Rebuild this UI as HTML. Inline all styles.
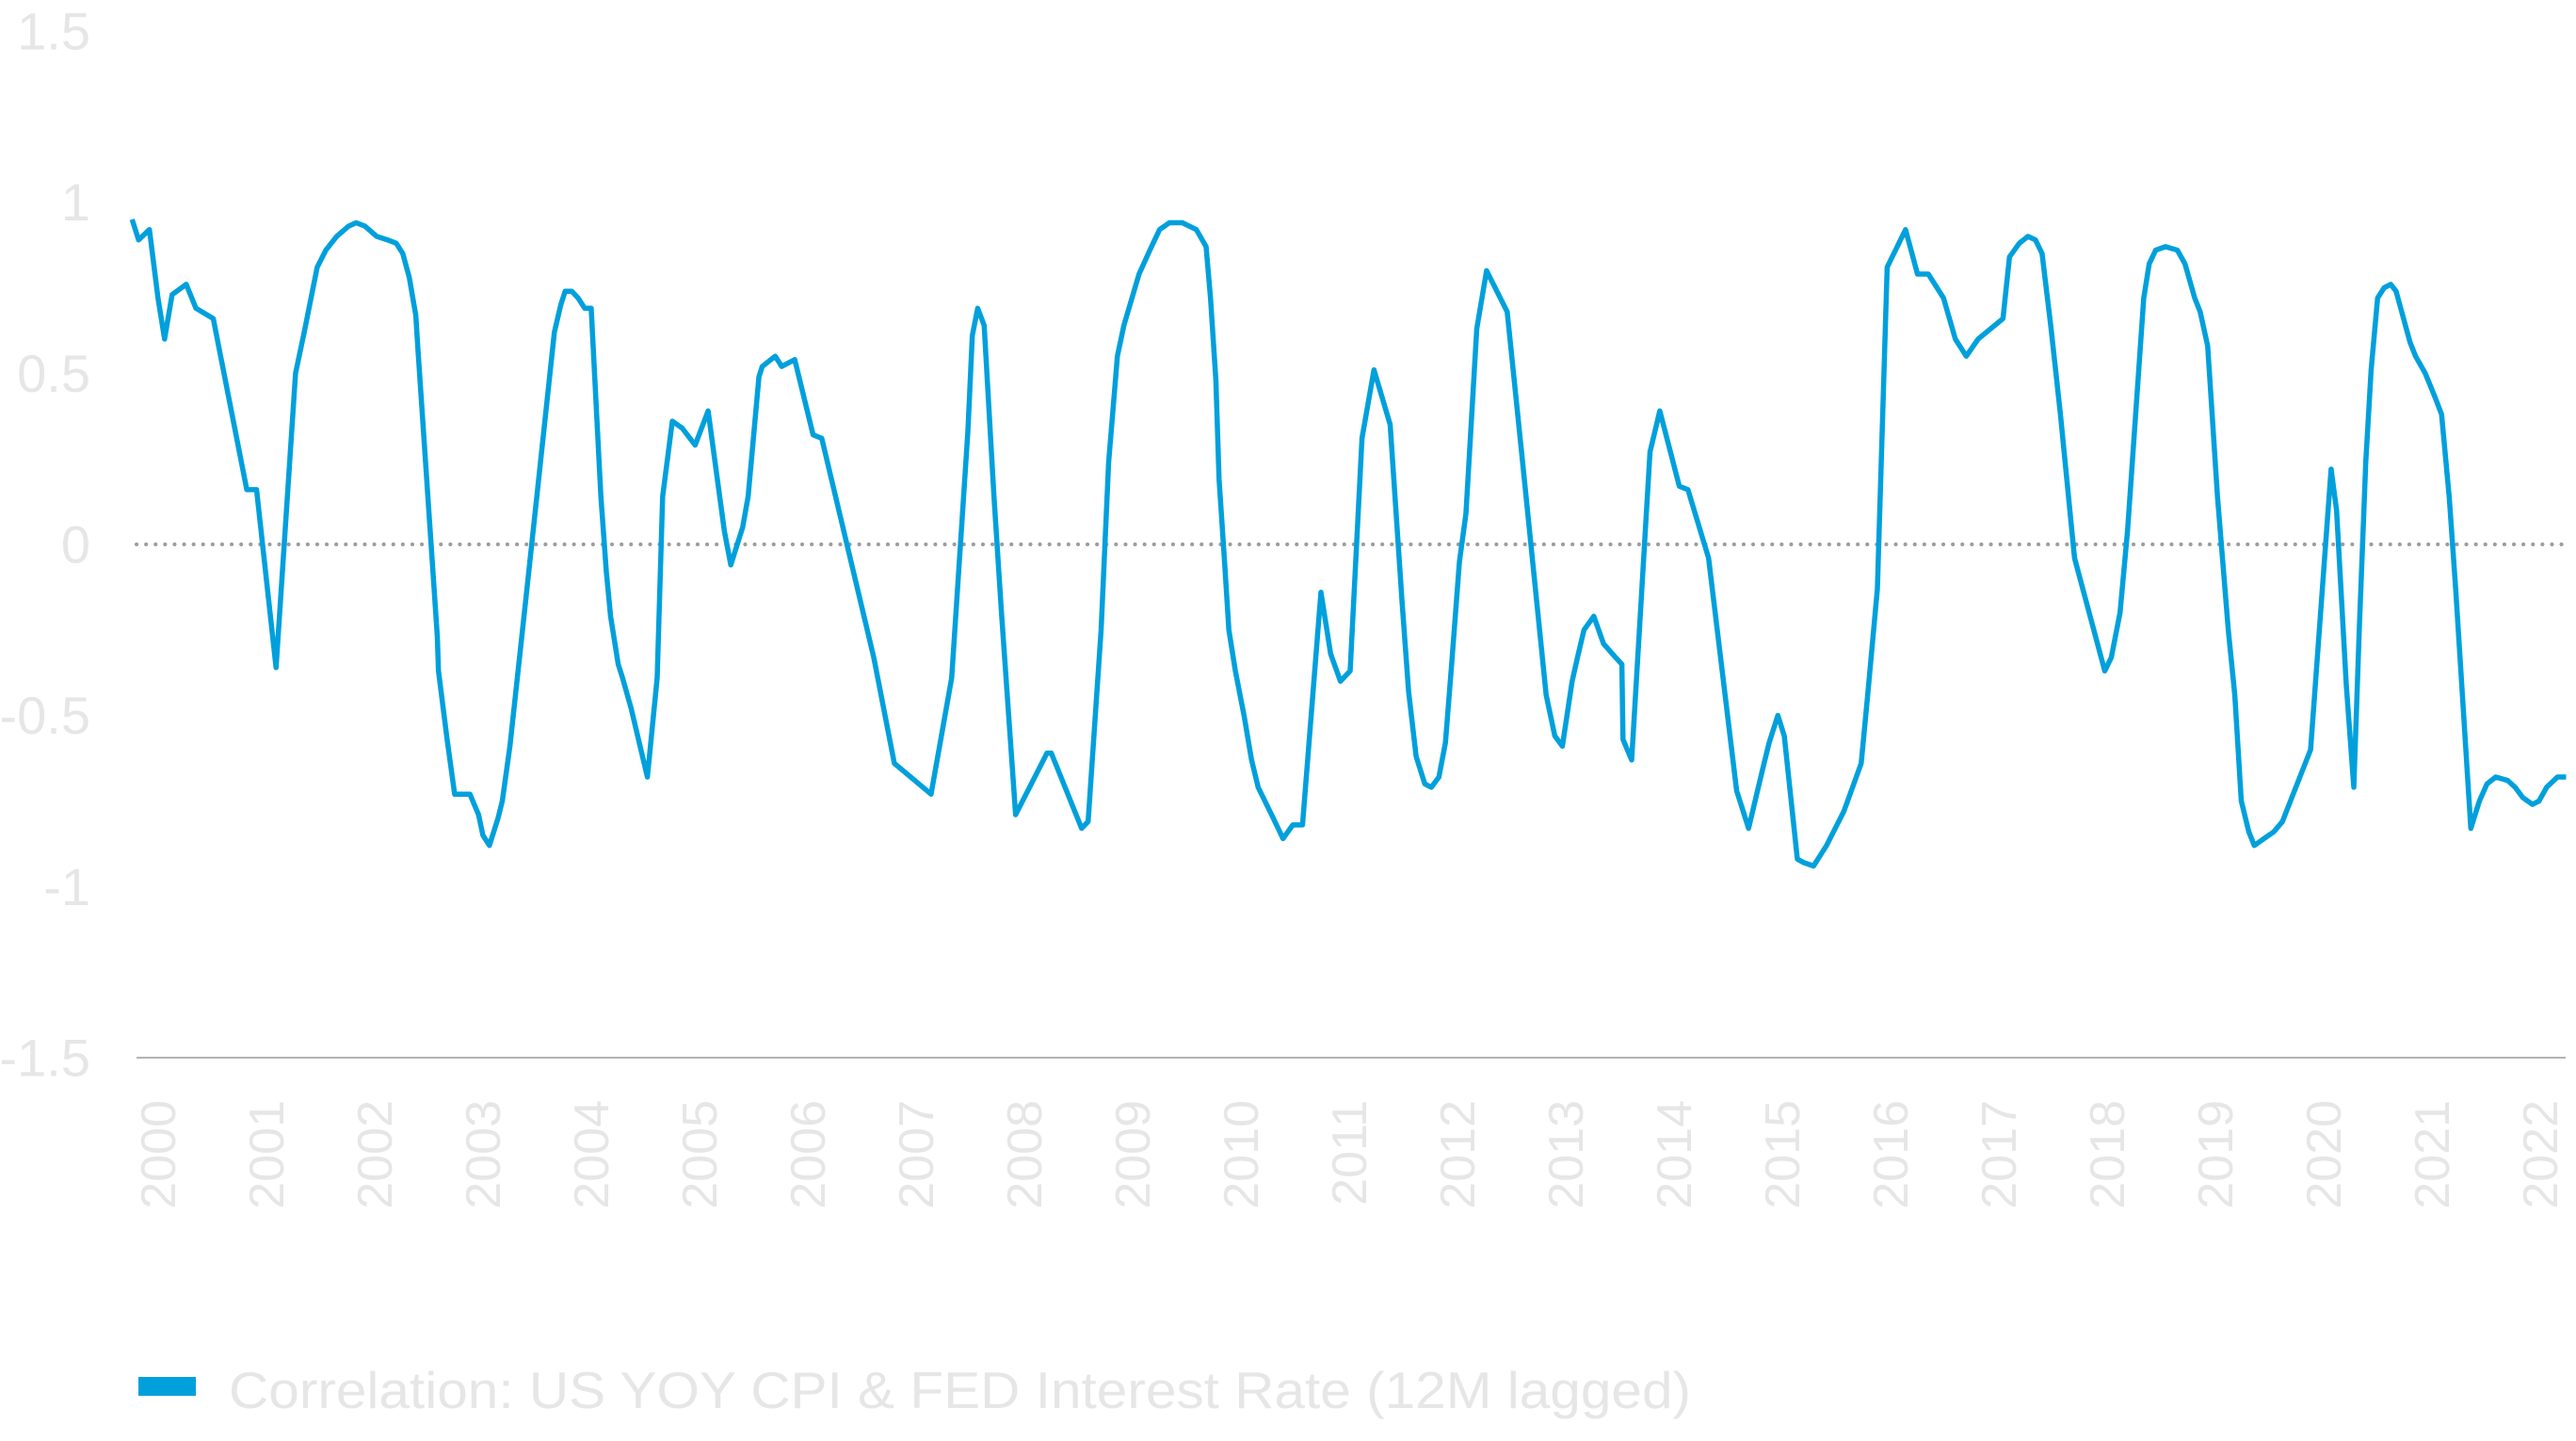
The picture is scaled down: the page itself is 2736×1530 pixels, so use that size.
<!DOCTYPE html>
<html><head><meta charset="utf-8"><style>
html,body{margin:0;padding:0;background:#fff;}
svg{display:block;font-family:"Liberation Sans",sans-serif;}
</style></head><body>
<svg id="chart" width="2736" height="1530" viewBox="0 0 2736 1530" xmlns="http://www.w3.org/2000/svg">
<g id="yaxis"></g>
<g id="xaxis"></g>
<line x1="145" y1="578" x2="2725" y2="578" stroke="#9c9c9c" stroke-width="4" stroke-dasharray="0.1 10" stroke-linecap="round"/>
<line x1="145" y1="1123" x2="2725" y2="1123" stroke="#b3b3b3" stroke-width="2"/>
<path id="series" fill="none" stroke="#00a0dc" stroke-width="5.5" stroke-linejoin="round"/>
<g>
<rect x="147" y="1462" width="61" height="20" fill="#00a0dc"/>
<text x="243" y="1476" font-size="55" fill="#e6e6e6" dominant-baseline="central" textLength="1553" lengthAdjust="spacingAndGlyphs">Correlation: US YOY CPI &amp; FED Interest Rate (12M lagged)</text>
</g>
</svg>
<script>
const yTicks = [1.5, 1, 0.5, 0, -0.5, -1, -1.5];
const yTickLabels = ["1.5", "1", "0.5", "0", "-0.5", "-1", "-1.5"];
const years = [2000,2001,2002,2003,2004,2005,2006,2007,2008,2009,2010,2011,2012,2013,2014,2015,2016,2017,2018,2019,2020,2021,2022];
const times = [-0.25,-0.19,-0.09,-0.01,0.05,0.12,0.25,0.34,0.50,0.81,0.90,1.08,1.26,1.34,1.46,1.54,1.64,1.75,1.82,1.90,2.01,2.11,2.19,2.25,2.31,2.37,2.39,2.57,2.58,2.66,2.73,2.87,2.95,2.99,3.05,3.13,3.17,3.24,3.39,3.65,3.71,3.75,3.81,3.87,3.93,3.99,4.08,4.13,4.17,4.24,4.28,4.36,4.51,4.60,4.65,4.74,4.83,4.95,5.07,5.22,5.28,5.39,5.44,5.54,5.57,5.69,5.75,5.87,6.04,6.12,6.60,6.79,7.13,7.32,7.47,7.51,7.56,7.62,7.71,7.78,7.91,8.20,8.24,8.52,8.58,8.70,8.77,8.85,8.91,9.05,9.15,9.24,9.33,9.45,9.58,9.67,9.71,9.76,9.79,9.84,9.88,9.94,10.02,10.09,10.15,10.29,10.38,10.47,10.56,10.73,10.82,10.91,11.00,11.11,11.22,11.37,11.48,11.54,11.61,11.69,11.75,11.82,11.88,11.94,12.01,12.07,12.17,12.26,12.45,12.58,12.81,12.89,12.96,13.05,13.10,13.16,13.25,13.34,13.45,13.51,13.52,13.60,13.77,13.86,14.04,14.12,14.31,14.57,14.68,14.80,14.87,14.95,15.01,15.13,15.19,15.28,15.40,15.56,15.72,15.78,15.87,15.96,16.13,16.24,16.34,16.48,16.59,16.69,16.80,17.03,17.09,17.18,17.26,17.33,17.39,17.47,17.56,17.69,17.97,18.03,18.11,18.18,18.33,18.38,18.44,18.53,18.64,18.71,18.80,18.85,18.92,19.01,19.11,19.17,19.23,19.30,19.35,19.44,19.53,19.61,19.87,20.06,20.11,20.20,20.27,20.32,20.38,20.43,20.49,20.55,20.61,20.66,20.79,20.84,20.93,21.02,21.08,21.15,21.21,21.35,21.43,21.50,21.58,21.69,21.76,21.83,21.92,21.98,22.05,22.15,22.23];
const values = [0.95,0.89,0.92,0.72,0.60,0.73,0.76,0.69,0.66,0.16,0.16,-0.36,0.50,0.62,0.81,0.86,0.90,0.93,0.94,0.93,0.90,0.89,0.88,0.85,0.78,0.67,0.57,-0.27,-0.37,-0.57,-0.73,-0.73,-0.79,-0.85,-0.88,-0.80,-0.75,-0.59,-0.15,0.62,0.70,0.74,0.74,0.72,0.69,0.69,0.14,-0.08,-0.21,-0.35,-0.39,-0.48,-0.68,-0.39,0.14,0.36,0.34,0.29,0.39,0.04,-0.06,0.05,0.14,0.49,0.52,0.55,0.52,0.54,0.32,0.31,-0.33,-0.64,-0.73,-0.39,0.33,0.61,0.69,0.64,0.14,-0.20,-0.79,-0.61,-0.61,-0.83,-0.81,-0.25,0.24,0.55,0.64,0.79,0.86,0.92,0.94,0.94,0.92,0.87,0.72,0.48,0.19,-0.05,-0.25,-0.37,-0.50,-0.63,-0.71,-0.80,-0.86,-0.82,-0.82,-0.14,-0.32,-0.40,-0.37,0.31,0.51,0.35,-0.17,-0.43,-0.62,-0.70,-0.71,-0.68,-0.58,-0.34,-0.05,0.09,0.63,0.80,0.68,0.28,-0.44,-0.56,-0.59,-0.40,-0.33,-0.25,-0.21,-0.29,-0.33,-0.35,-0.57,-0.63,0.27,0.39,0.17,0.16,-0.04,-0.72,-0.83,-0.67,-0.58,-0.50,-0.56,-0.92,-0.93,-0.94,-0.88,-0.78,-0.64,-0.44,-0.13,0.81,0.92,0.79,0.79,0.72,0.60,0.55,0.60,0.66,0.84,0.88,0.90,0.89,0.85,0.64,0.38,-0.04,-0.37,-0.33,-0.20,0.04,0.72,0.82,0.86,0.87,0.86,0.82,0.72,0.68,0.58,0.14,-0.25,-0.44,-0.75,-0.84,-0.88,-0.86,-0.84,-0.81,-0.60,0.22,0.10,-0.41,-0.71,-0.25,0.24,0.51,0.72,0.75,0.76,0.74,0.59,0.55,0.50,0.43,0.38,0.14,-0.13,-0.83,-0.75,-0.70,-0.68,-0.69,-0.71,-0.74,-0.76,-0.75,-0.71,-0.68,-0.68];

const NS = "http://www.w3.org/2000/svg";
function xScale(t){ return 169 + t * 115; }
function yScale(v){ return 578 - v * 363.3; }

const yaxis = document.getElementById('yaxis');
yTicks.forEach((v, i) => {
  const t = document.createElementNS(NS, 'text');
  
  
  t.setAttribute('x', 96);
  t.setAttribute('y', yScale(v));
  t.setAttribute('text-anchor', 'end');
  t.setAttribute('dominant-baseline', 'central');
  t.setAttribute('font-size', '56');
  t.setAttribute('fill', '#e6e6e6');
  t.textContent = yTickLabels[i];
  yaxis.appendChild(t);
});

const xaxis = document.getElementById('xaxis');
years.forEach(yr => {
  const x = xScale(yr - 2000);
  const t = document.createElementNS(NS, 'text');
  
  
  t.setAttribute('x', x);
  t.setAttribute('y', 1168);
  t.setAttribute('text-anchor', 'end');
  t.setAttribute('dominant-baseline', 'central');
  t.setAttribute('font-size', '52');
  t.setAttribute('fill', '#e6e6e6');
  t.setAttribute('transform', 'rotate(-90 ' + x + ' 1168)');
  t.textContent = String(yr);
  xaxis.appendChild(t);
});

let d = '';
times.forEach((t, i) => {
  d += (i ? 'L' : 'M') + xScale(t).toFixed(1) + ' ' + yScale(values[i]).toFixed(1) + ' ';
});
document.getElementById('series').setAttribute('d', d);
</script>
</body></html>
